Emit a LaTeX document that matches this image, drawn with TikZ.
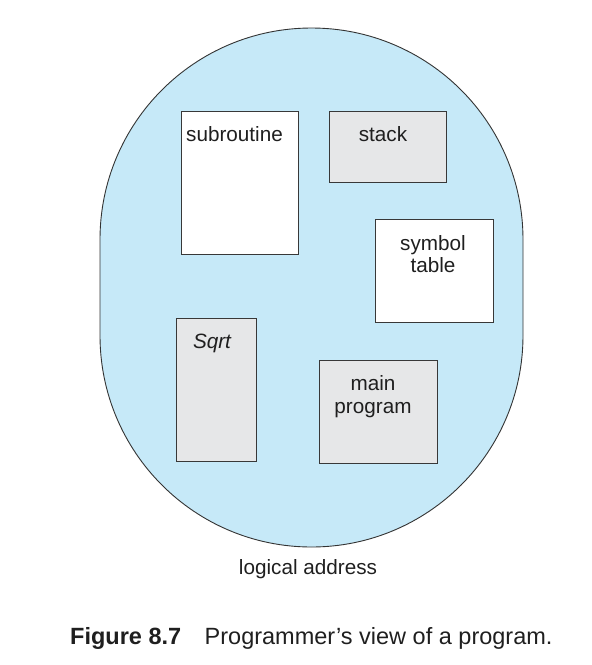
\documentclass[tikz,border=0pt]{standalone}
\usepackage{fontspec}
\setmainfont{Liberation Sans}

\begin{document}
\begin{tikzpicture}[
  x=1pt,y=-1pt,
  segbox/.style={rectangle,draw=black!78,line width=0.9pt,inner sep=0pt},
  seglabel/.style={anchor=base,inner sep=0pt,font=\fontsize{20.7}{23}\selectfont},
  every node/.style={text=black!88},
]
\definecolor{spaceBlue}{HTML}{C6E9F8}
\definecolor{segGray}{HTML}{E6E7E8}

\useasboundingbox (0,0) rectangle (592,665);

% The logical address space as one rounded outline.
\node[draw=black!80,line width=0.9pt,fill=spaceBlue,rounded corners=211.5pt,
  minimum width=423pt,minimum height=519pt,inner sep=0pt] (space) at (311.5,287.5) {};

% Program segments: white and gray boxes at their own positions.
\node[segbox,fill=white,minimum width=117pt,minimum height=143pt] (subr) at (239.5,182.5) {};
\node[segbox,fill=segGray,minimum width=117pt,minimum height=71pt] (stack) at (387.5,146.5) {};
\node[segbox,fill=white,minimum width=118pt,minimum height=103pt] (symtab) at (434.5,270.5) {};
\node[segbox,fill=segGray,minimum width=80pt,minimum height=143pt] (sqrt) at (216,389.5) {};
\node[segbox,fill=segGray,minimum width=118pt,minimum height=103pt] (mainprog) at (378,411.5) {};

\node[seglabel] (subrtext) at (234.5,141.5) {subroutine};
\node[seglabel] (stacktext) at (383,141.5) {stack};
\node[seglabel] (symtext) at (433,250) {symbol};
\node[seglabel] (symtext2) at (433,272.7) {table};
\node[seglabel,font=\fontsize{20.7}{23}\selectfont\itshape] (sqrttext) at (212,348) {Sqrt};
\node[seglabel] (maintext) at (373,390.7) {main};
\node[seglabel] (maintext2) at (373,413) {program};

\node[seglabel] (spacetext) at (308,574) {logical address};

\node[anchor=base west,inner sep=0pt,font=\fontsize{23.5}{27}\selectfont] (caption) at (70,644)
  {\textbf{Figure 8.7}\quad Programmer’s view of a program.};
\end{tikzpicture}
\end{document}
